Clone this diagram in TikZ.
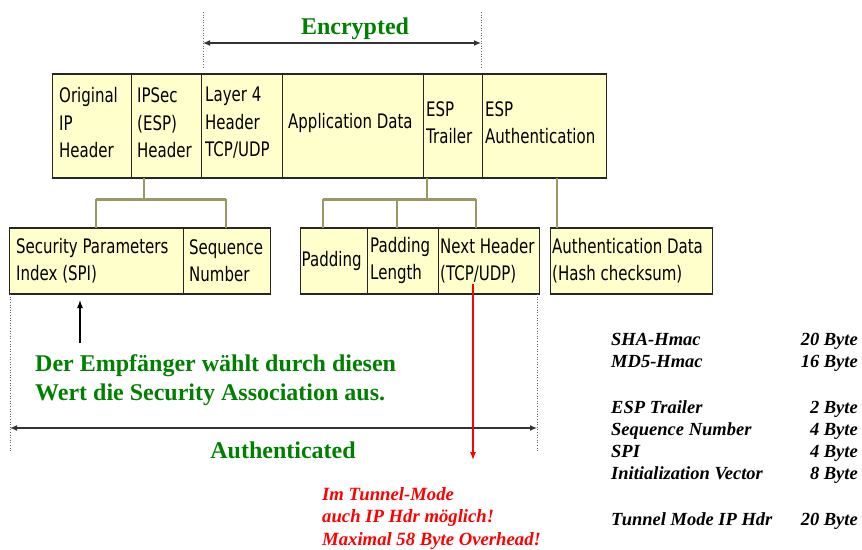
\documentclass[tikz,border=0pt]{standalone}
\usepackage{fontspec}
\setmainfont{Liberation Serif}
\newfontfamily\boxfont[FakeStretch=0.75]{DejaVu Sans}
\usetikzlibrary{arrows.meta}
\definecolor{cream}{HTML}{FFFFCC}
\definecolor{treeline}{HTML}{999966}
\definecolor{agreen}{RGB}{0,128,0}
\definecolor{ared}{RGB}{255,0,0}

\begin{document}
\begin{tikzpicture}[x=1pt,y=-1pt,
  field/.style={draw=black!85, fill=cream, line width=1.1pt, inner sep=0pt, anchor=north west},
  lbl/.style={font={\boxfont\fontsize{20pt}{27.5pt}\selectfont}, align=left, inner sep=0pt, anchor=west},
  tree/.style={draw=treeline, line width=2.2pt},
  treebar/.style={draw=treeline, line width=3pt},
  rim/.style={draw=black!85, line width=2.6pt},
  dim/.style={draw=black!80, line width=1.3pt, {Latex[length=7pt,width=6pt]}-{Latex[length=7pt,width=6pt]}},
  guide/.style={draw=black!60, dotted, line width=0.6pt},
  ptr/.style={draw=black, line width=1.2pt, -{Latex[length=8pt,width=6pt]}},
  redptr/.style={draw=ared, line width=1.2pt, -{Latex[length=8pt,width=6pt]}},
  big/.style={font={\bfseries\fontsize{24pt}{28.5pt}\selectfont}, text=agreen, inner sep=0pt},
  tab/.style={font={\bfseries\itshape\fontsize{18.5pt}{22pt}\selectfont}, inner sep=0pt},
  note/.style={font={\bfseries\itshape\fontsize{18.7pt}{22.5pt}\selectfont}, text=ared, inner sep=0pt, align=left}
]
\useasboundingbox (0,0) rectangle (862,549);

% ESP packet: top row of fields
\node[field, minimum width=79pt,  minimum height=103pt] (f-ip)   at (52,74)  {};
\node[field, minimum width=70pt,  minimum height=103pt] (f-esp)  at (131,74) {};
\node[field, minimum width=81pt,  minimum height=103pt] (f-l4)   at (201,74) {};
\node[field, minimum width=141pt, minimum height=103pt] (f-app)  at (282,74) {};
\node[field, minimum width=59pt,  minimum height=103pt] (f-trl)  at (423,74) {};
\node[field, minimum width=124pt, minimum height=103pt] (f-auth) at (482,74) {};
\draw[rim] (f-ip.north west) -- (f-auth.north east);
\draw[rim] (f-ip.south west) -- (f-auth.south east);

\node[lbl] (l-ip)   at (59,122.8)  {Original\\IP\\Header};
\node[lbl] (l-esp)  at (137,122.8) {IPSec\\(ESP)\\Header};
\node[lbl] (l-l4)   at (205,122.8) {Layer 4\\Header\\TCP/UDP};
\node[lbl] (l-app)  at (288,122.8) {Application Data};
\node[lbl] (l-trl)  at (426,122.8) {ESP\\Trailer};
\node[lbl] (l-auth) at (485,122.8) {ESP\\Authentication};

% Lower row: expanded header, trailer and authentication fields
\node[field, minimum width=174pt, minimum height=65pt] (f-spi) at (9,228)   {};
\node[field, minimum width=87pt,  minimum height=65pt] (f-seq) at (183,228) {};
\node[field, minimum width=67pt,  minimum height=65pt] (f-pad) at (300,228) {};
\node[field, minimum width=71pt,  minimum height=65pt] (f-pl)  at (367,228) {};
\node[field, minimum width=101pt, minimum height=65pt] (f-nh)  at (438,228) {};
\node[field, minimum width=162pt, minimum height=65pt] (f-ad)  at (550,228) {};
\draw[rim] (f-spi.north west) -- (f-seq.north east);
\draw[rim] (f-spi.south west) -- (f-seq.south east);
\draw[rim] (f-pad.north west) -- (f-nh.north east);
\draw[rim] (f-pad.south west) -- (f-nh.south east);
\draw[rim] (f-ad.north west) -- (f-ad.north east);
\draw[rim] (f-ad.south west) -- (f-ad.south east);

\node[lbl] (l-spi) at (16,260.5)  {Security Parameters\\Index (SPI)};
\node[lbl] (l-seq) at (189,260.5) {Sequence\\Number};
\node[lbl] (l-pad) at (301.5,260.5) {Padding};
\node[lbl] (l-pl)  at (370,260.5) {Padding\\Length};
\node[lbl] (l-nh)  at (440,260.5) {Next Header\\(TCP/UDP)};
\node[lbl] (l-ad)  at (552,260.5) {Authentication Data\\(Hash checksum)};

% Tree connectors
\coordinate (hl)  at (144,199);
\coordinate (hl1) at (96,199);
\coordinate (hl2) at (226,199);
\draw[tree] (hl |- f-esp.south) -- (hl);
\draw[treebar] (hl1) -- (hl2);
\draw[tree] (hl1) -- (hl1 |- f-spi.north);
\draw[tree] (hl2) -- (hl2 |- f-seq.north);

\coordinate (hm)  at (427,199);
\coordinate (hm1) at (323,199);
\coordinate (hm2) at (397,199);
\coordinate (hm3) at (476,199);
\draw[tree] (hm |- f-trl.south) -- (hm);
\draw[treebar] (hm1) -- (hm3);
\draw[tree] (hm1) -- (hm1 |- f-pad.north);
\draw[tree] (hm2) -- (hm2 |- f-pl.north);
\draw[tree] (hm3) -- (hm3 |- f-nh.north);

\coordinate (hr) at (557,199);
\draw[tree] (hr |- f-auth.south) -- (hr |- f-ad.north);

% Encrypted span
\coordinate (e1) at (203,43);
\coordinate (e2) at (481,43);
\coordinate (e1t) at (203,12);
\coordinate (e1b) at (203,68);
\coordinate (e2t) at (481,12);
\coordinate (e2b) at (481,68);
\draw[guide] (e1t) -- (e1b);
\draw[guide] (e2t) -- (e2b);
\draw[dim] (e1) -- (e2);
\node[big, anchor=base] (enc) at (355,34) {Encrypted};

% Authenticated span
\coordinate (a1) at (10,428);
\coordinate (a2) at (537,428);
\coordinate (a1b) at (10,452);
\coordinate (a2b) at (537,452);
\draw[guide] (f-spi.south west -| a1) -- (a1b);
\draw[guide] (f-nh.south east -| a2) -- (a2b);
\draw[dim] (a1) -- (a2);
\node[big, anchor=base] (authd) at (283,458) {Authenticated};

% Selection of the Security Association
\node[big, anchor=base west, align=left] (sa) at (35,400) {Der Empfänger wählt durch diesen\\Wert die Security Association aus.};
\coordinate (sp) at (80,343);
\coordinate (spt) at (80,300);
\draw[ptr] (sp) -- (spt);

% Tunnel mode note
\coordinate (nh1) at (473,284);
\coordinate (nh2) at (473,460);
\draw[redptr] (nh1) -- (nh2);
\node[note, anchor=base west] (tun) at (322,545) {Im Tunnel-Mode\\auch IP Hdr möglich!\\Maximal 58 Byte Overhead!};

% Overhead sizes
\node[tab, anchor=base west] (k1) at (611,345) {SHA-Hmac};
\node[tab, anchor=base east] (v1) at (858,345) {20 Byte};
\node[tab, anchor=base west] (k2) at (611,367) {MD5-Hmac};
\node[tab, anchor=base east] (v2) at (858,367) {16 Byte};
\node[tab, anchor=base west] (k3) at (611,413) {ESP Trailer};
\node[tab, anchor=base east] (v3) at (858,413) {2 Byte};
\node[tab, anchor=base west] (k4) at (611,435) {Sequence Number};
\node[tab, anchor=base east] (v4) at (858,435) {4 Byte};
\node[tab, anchor=base west] (k5) at (611,457) {SPI};
\node[tab, anchor=base east] (v5) at (858,457) {4 Byte};
\node[tab, anchor=base west] (k6) at (611,479) {Initialization Vector};
\node[tab, anchor=base east] (v6) at (858,479) {8 Byte};
\node[tab, anchor=base west] (k7) at (611,525) {Tunnel Mode IP Hdr};
\node[tab, anchor=base east] (v7) at (858,525) {20 Byte};
\end{tikzpicture}
\end{document}
